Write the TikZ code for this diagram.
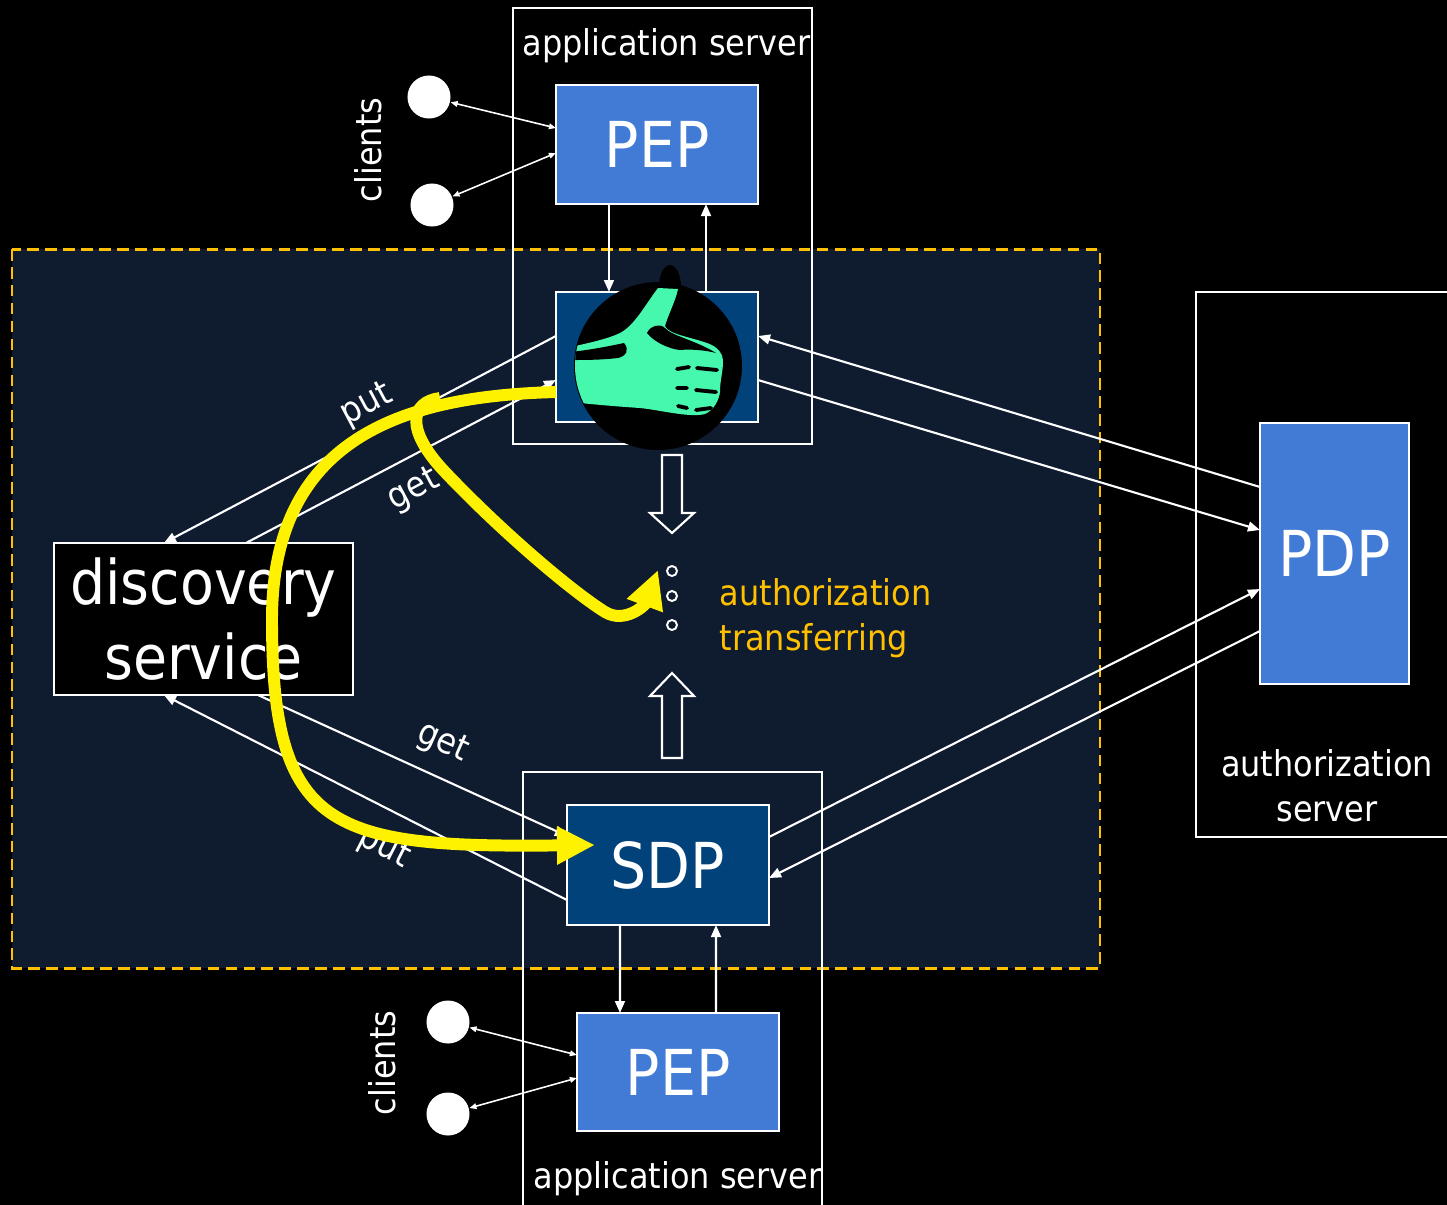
\documentclass[tikz,border=0pt]{standalone}
\usepackage{fontspec}
\setmainfont{DejaVu Sans}[FakeStretch=0.9]
\usetikzlibrary{arrows.meta}
\definecolor{navy}{HTML}{0F1B2E}
\definecolor{pepblue}{HTML}{427BD6}
\definecolor{sdpblue}{HTML}{02427A}
\definecolor{gold}{HTML}{FFC000}
\definecolor{thumbgreen}{HTML}{46F7AE}
\begin{document}
\begin{tikzpicture}[x = 0.01cm, y = 0.01cm,
	box/.style = {draw = white, line width = 0.6pt, inner sep = 0pt, outer sep = 0pt, text = white, font = \fontsize{18}{21}\selectfont},
	pep/.style = {box, fill = pepblue, minimum width = 2.02cm},
	sdp/.style = {box, fill = sdpblue, minimum width = 2.02cm},
	txt/.style = {text = white, inner sep = 0pt, font = \fontsize{10.1}{12.8}\selectfont},
	link/.style = {white, line width = 0.6pt, -{Triangle[length = 3.4pt, width = 2.8pt]}},
	cli/.style = {white, line width = 0.45pt, {Triangle[length = 2pt, width = 1.6pt]}-{Triangle[length = 2pt, width = 1.6pt]}},
	client/.style = {circle, fill = white, minimum size = 0.43cm, inner sep = 0pt},
	hollow/.style = {draw = white, line width = 0.6pt, fill = navy},
	yarrow/.style = {yellow, line width = 3.4pt, -{Triangle[length = 10.8pt, width = 10.2pt]}}]
		\fill [black] (0,0) rectangle (1447,-1205);
		\useasboundingbox (0,0) rectangle (1447,-1205);
		\filldraw [fill = navy, draw = gold, line width = 0.85pt, dash pattern = on 3.3pt off 1.8pt] (12,-249) rectangle (1100,-968);
		\draw [white, line width = 0.6pt] (513,-8) rectangle (812,-444);
		\draw [white, line width = 0.6pt] (523,-772) rectangle (822,-1215);
		\draw [white, line width = 0.6pt] (1196,-292) rectangle (1455,-837);
		\node [txt, anchor = base west](appA) at (522,-55) {application server};
		\node [txt, anchor = base west](appB) at (533,-1188) {application server};
		\node [txt, align = center](auth) at (1327,-786) {authorization\\server};
		\node [pep, minimum height = 1.19cm](pepA) at (657,-144.5) {PEP};
		\node [sdp, minimum height = 1.30cm](sdpA) at (657,-357) {};
		\node [sdp, minimum height = 1.20cm](sdpB) at (668,-865) {SDP};
		\node [pep, minimum height = 1.18cm](pepB) at (678,-1072) {PEP};
		\node [pep, minimum width = 1.49cm, minimum height = 2.61cm](pdp) at (1334.5,-553.5) {PDP};
		\node [box, fill = black, minimum width = 2.99cm, minimum height = 1.52cm, align = center, font = \fontsize{17.5}{21.3}\selectfont](disc) at (203.5,-619) {discovery\\service};
		\node [client](cA) at (429,-97) {};
		\node [client](cB) at (432,-205) {};
		\node [client](cC) at (448,-1022) {};
		\node [client](cD) at (448,-1114) {};
		\node [txt, rotate = 90](clA) at (368,-150) {clients};
		\node [txt, rotate = 90](clB) at (382,-1063) {clients};
		\draw [cli] (cA) -- ([yshift = 0.165cm]pepA.west);
		\draw [cli] (cB) -- ([yshift = -0.085cm]pepA.west);
		\draw [cli] (cC) -- ([yshift = 0.17cm]pepB.west);
		\draw [cli] (cD) -- ([yshift = -0.06cm]pepB.west);
		\draw [link] ([xshift = -0.48cm]pepA.south) -- ([xshift = -0.48cm]sdpA.north);
		\draw [link] ([xshift = 0.49cm]sdpA.north) -- ([xshift = 0.49cm]pepA.south);
		\draw [link] ([xshift = -0.48cm]sdpB.south) -- ([xshift = -0.58cm]pepB.north);
		\draw [link] ([xshift = 0.38cm]pepB.north) -- ([xshift = 0.48cm]sdpB.south);
		\draw [link] ([yshift = 0.21cm]sdpA.west) -- ([xshift = -0.395cm]disc.north);
		\draw [link] ([xshift = 0.425cm]disc.north) -- ([yshift = -0.23cm]sdpA.west);
		\draw [link] ([yshift = -0.35cm]sdpB.west) -- ([xshift = -0.395cm]disc.south);
		\draw [link] ([xshift = 0.545cm]disc.south) -- ([yshift = 0.29cm]sdpB.west);
		\draw [link] ([yshift = 0.665cm]pdp.west) -- ([yshift = 0.21cm]sdpA.east);
		\draw [link] ([yshift = -0.23cm]sdpA.east) -- ([yshift = 0.235cm]pdp.west);
		\draw [link] ([yshift = 0.28cm]sdpB.east) -- ([yshift = -0.355cm]pdp.west);
		\draw [link] ([yshift = -0.775cm]pdp.west) -- ([yshift = -0.13cm]sdpB.east);
		\fill [black] (658,-366) circle (84);
		\fill [black] (670,-287) ellipse (11 and 22);
		\begin{scope}
			\clip (658,-366) circle (83);
			\fill [thumbgreen] (658,-288) -- (678,-289) .. controls (676,-300) and (668,-315) .. (665,-326) .. controls (668,-334) and (690,-337) .. (707,-343) .. controls (716,-346) and (723,-352) .. (723,-362) .. controls (723,-372) and (720,-380) .. (720,-392) .. controls (719,-400) and (714,-410) .. (705,-414) .. controls (690,-418) and (660,-410) .. (640,-408) .. controls (610,-406) and (590,-404) .. (570,-402) -- (570,-347) .. controls (590,-343) and (610,-338) .. (620,-333) .. controls (635,-325) and (645,-305) .. cycle;
			\fill [black] (570,-352) .. controls (590,-350) and (610,-346) .. (624,-343) .. controls (630,-350) and (626,-356) .. (618,-358) .. controls (600,-360) and (585,-360) .. (570,-360) -- cycle;
			\fill [black] (647,-333) .. controls (650,-326) and (660,-323) .. (665,-328) .. controls (672,-336) and (695,-340) .. (716,-353) .. controls (705,-350) and (690,-349) .. (680,-350) .. controls (670,-349) and (655,-343) .. cycle;
			\draw [black, line width = 1.1pt, line cap = round] (677,-369) -- (689,-367) (697,-368) -- (717,-370) (677,-388) -- (687,-388) (696,-390) -- (716,-392) (678,-406) -- (687,-408) (696,-410) -- (711,-408);
		\end{scope}
		\filldraw [hollow] (662,-455) -- (682,-455) -- (682,-513) -- (694,-513) -- (672,-533) -- (650,-513) -- (662,-513) -- cycle;
		\filldraw [hollow] (662,-758) -- (682,-758) -- (682,-696) -- (694,-696) -- (672,-673) -- (650,-696) -- (662,-696) -- cycle;
		\foreach \y in {571,596,625}
			\draw [white, line width = 0.55pt] (672,-\y) circle (5);
		\node [txt, text = gold, align = left, anchor = west](trans) at (719,-618) {authorization\\transferring};
		\node [txt, rotate = 28](putA) at (367,-405) {put};
		\node [txt, rotate = 28](getA) at (414,-490) {get};
		\node [txt, rotate = -24](getB) at (443,-743) {get};
		\node [txt, rotate = -27](putB) at (384,-848) {put};
		\coordinate (fork) at (440,-398);
		\coordinate (hookend) at (658,-570);
		\draw [yarrow] ([yshift = -0.35cm]sdpA.west) .. controls (400,-396) and (272,-440) .. (272,-620) .. controls (272,-830) and (330,-848) .. ([xshift = 0.28cm, yshift = 0.2cm]sdpB.west);
		\draw [yarrow] (fork) .. controls (410,-402) and (405,-430) .. (445,-472) .. controls (500,-530) and (570,-590) .. (605,-612) .. controls (625,-624) and (645,-605) .. (hookend);
\end{tikzpicture}
\end{document}
